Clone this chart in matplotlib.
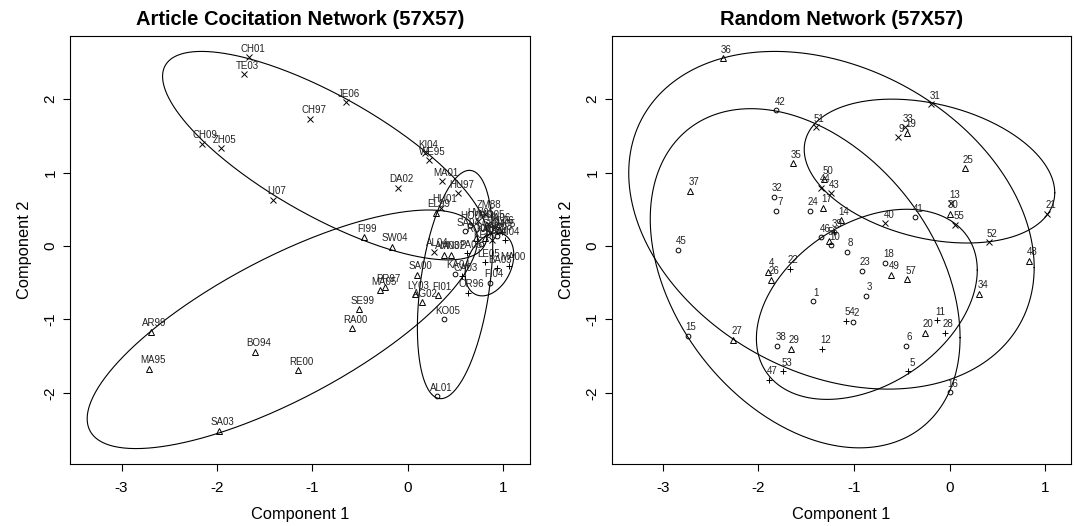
import numpy as np
import matplotlib
matplotlib.use('Agg')
from matplotlib import pyplot as plt

# ---- Article cocitation network (57x57): component scores ----
art_labels = ['CH01', 'TE03', 'CH97', 'CH09', 'ZH05', 'LI07', 'JE06', 'KI04',
              'WE95', 'DA02', 'MA01', 'HU97', 'HU01', 'EL99', 'FI99', 'SW04',
              'AL04', 'AM03', 'AN02', 'SA00', 'KA04', 'CA03', 'PR97', 'MA05',
              'LY03', 'AG02', 'FI01', 'SE99', 'RA00', 'KO05', 'AL01', 'OR96',
              'FI04', 'AR99', 'MA95', 'BO94', 'RE00', 'SA03',
              'ZM88', 'HW05', 'HO06', 'SA04', 'MO05', 'HA06', 'KL06', 'NI05',
              'GL04', 'WA03', 'KA05', 'ST04', 'KE03', 'RO01', 'MI04', 'LE05',
              'MA00', 'BA03', 'PA05']
art_x = [-1.66, -1.72, -1.02, -2.16, -1.96, -1.41, -0.65, 0.18,
         0.22, -0.10, 0.36, 0.53, 0.35, 0.29, -0.46, -0.17,
         0.27, 0.38, 0.45, 0.10, 0.49, 0.57, -0.24, -0.29,
         0.07, 0.15, 0.32, -0.51, -0.59, 0.38, 0.31, 0.63,
         0.86, -2.69, -2.71, -1.60, -1.15, -1.98,
         0.81, 0.73, 0.65, 0.60, 0.84, 0.91, 0.96, 0.99,
         0.86, 0.93, 0.81, 0.88, 0.77, 0.71, 1.02, 0.81,
         1.06, 0.93, 0.62]
art_y = [2.57, 2.34, 1.73, 1.39, 1.33, 0.63, 1.96, 1.26,
         1.17, 0.79, 0.88, 0.72, 0.52, 0.45, 0.12, -0.01,
         -0.08, -0.12, -0.12, -0.39, -0.38, -0.41, -0.56, -0.60,
         -0.66, -0.77, -0.67, -0.86, -1.12, -1.00, -2.05, -0.64,
         -0.50, -1.17, -1.67, -1.44, -1.69, -2.52,
         0.44, 0.34, 0.29, 0.20, 0.30, 0.26, 0.22, 0.19,
         0.18, 0.14, 0.11, 0.08, 0.03, 0.11, 0.08, -0.22,
         -0.27, -0.30, -0.10]
# cluster: 1 circle, 2 triangle, 3 plus, 4 cross
art_group = [4, 4, 4, 4, 4, 4, 4, 4,
             4, 4, 4, 4, 4, 2, 2, 2,
             4, 2, 2, 2, 1, 3, 2, 2,
             2, 2, 2, 2, 2, 1, 1, 3,
             1, 2, 2, 2, 2, 2,
             4, 4, 1, 1, 4, 4, 2, 3,
             4, 1, 2, 4, 1, 2, 3, 3,
             3, 3, 3]
# spanning ellipses: centre, half extents along x / y, and correlation
art_ell_cx = [-0.87, -1.315, 0.495, 0.855]
art_ell_cy = [1.23, -1.135, -0.525, -0.25]
art_ell_sx = [1.70, 2.045, 0.395, 0.255]
art_ell_sy = [1.42, 1.625, 1.555, 0.43]
art_ell_r = [-0.76, 0.75, 0.38, 0.30]

# ---- Random network (57x57) ----
rnd_labels = [str(i) for i in range(1, 58)]
rnd_x = [-1.43, -1.01, -0.87, -1.90, -0.43, -0.46, -1.81, -1.07, -0.54, -1.24,
         -0.13, -1.33, 0.02, -1.14, -2.74, 0.00, -1.32, -0.67, -0.44, -0.26,
         1.02, -1.67, -0.92, -1.46, 0.16, -1.87, -2.26, -0.05, -1.66, 0.00,
         -0.19, -1.84, -0.47, 0.31, -1.64, -2.37, -2.71, -1.80, -1.21, -0.67,
         -0.36, -1.81, -1.24, -1.34, -2.84, -1.34, -1.89, 0.83, -0.61, -1.31,
         -1.40, 0.41, -1.74, -1.08, 0.06, -1.26, -0.44]
rnd_y = [-0.75, -1.03, -0.68, -0.35, -1.71, -1.36, 0.48, -0.08, 1.48, 0.01,
         -1.01, -1.40, 0.58, 0.35, -1.22, -1.99, 0.52, -0.23, 1.54, -1.18,
         0.44, -0.31, -0.34, 0.48, 1.06, -0.46, -1.28, -1.18, -1.40, 0.44,
         1.93, 0.67, 1.62, -0.65, 1.13, 2.56, 0.75, -1.36, 0.19, 0.31,
         0.39, 1.85, 0.72, 0.79, -0.05, 0.12, -1.82, -0.20, -0.39, 0.91,
         1.62, 0.05, -1.71, -1.02, 0.29, 0.07, -0.45]
rnd_group = [1, 1, 1, 2, 3, 1, 1, 1, 4, 1,
             3, 3, 4, 2, 1, 1, 2, 1, 2, 2,
             4, 3, 1, 1, 2, 2, 2, 3, 2, 2,
             4, 1, 4, 2, 2, 2, 2, 1, 3, 4,
             1, 1, 4, 4, 1, 1, 3, 2, 2, 2,
             4, 4, 3, 3, 4, 2, 2]
rnd_ell_cx = [-1.235, -1.51, -0.21, -0.865]
rnd_ell_cy = [0.35, -0.44, 1.02, -0.795]
rnd_ell_sx = [2.12, 1.62, 1.31, 1.155]
rnd_ell_sy = [2.30, 2.31, 0.98, 1.295]
rnd_ell_r = [-0.28, -0.35, -0.30, 0.36]

markers = {1: 'o', 2: '^', 3: '+', 4: 'x'}
msize = {1: 3.4, 2: 4.2, 3: 5.0, 4: 4.0}

plt.rcParams['font.family'] = ['Liberation Sans', 'DejaVu Sans']
plt.rcParams['axes.unicode_minus'] = False


def draw_panel(ax, title, labels, xs, ys, groups, ecx, ecy, esx, esy, er):
    xs = np.asarray(xs)
    ys = np.asarray(ys)
    groups = np.asarray(groups)
    t = np.linspace(0, 2 * np.pi, 400)
    for cx, cy, sx, sy, r in zip(ecx, ecy, esx, esy, er):
        ex = cx + sx * np.cos(t)
        ey = cy + sy * (r * np.cos(t) - np.sqrt(1 - r * r) * np.sin(t))
        ax.plot(ex, ey, color='black', lw=0.8)
    for g, m in markers.items():
        sel = groups == g
        ax.plot(xs[sel], ys[sel], linestyle='none', marker=m,
                markersize=msize[g], markerfacecolor='none',
                markeredgecolor='black', markeredgewidth=0.7)
    for lab, x, y in zip(labels, xs, ys):
        ax.annotate(lab, (x, y), xytext=(2.5, 2.5), textcoords='offset points',
                    ha='center', va='bottom', fontsize=7, color='#222222')
    ax.set_title(title, fontsize=14.5, fontweight='bold', pad=8)
    ax.set_xlabel('Component 1', fontsize=11.8, labelpad=9)
    ax.set_ylabel('Component 2', fontsize=11.8, labelpad=8)
    ax.set_xticks([-3, -2, -1, 0, 1])
    ax.set_yticks([-2, -1, 0, 1, 2])
    ax.tick_params(direction='out', length=5, width=0.8, labelsize=11)
    ax.tick_params(axis='x', pad=7)
    ax.tick_params(axis='y', pad=4)
    for lab in ax.get_yticklabels():
        lab.set_rotation(90)
        lab.set_va('center')
    for s in ax.spines.values():
        s.set_linewidth(0.8)


fig = plt.figure(figsize=(10.74, 5.26), dpi=100)
ax1 = fig.add_axes([70 / 1074, 62 / 526, 460 / 1074, 428 / 526])
ax2 = fig.add_axes([612 / 1074, 62 / 526, 459 / 1074, 428 / 526])

draw_panel(ax1, 'Article Cocitation Network (57X57)', art_labels, art_x, art_y,
           art_group, art_ell_cx, art_ell_cy, art_ell_sx, art_ell_sy, art_ell_r)
draw_panel(ax2, 'Random Network (57X57)', rnd_labels, rnd_x, rnd_y,
           rnd_group, rnd_ell_cx, rnd_ell_cy, rnd_ell_sx, rnd_ell_sy, rnd_ell_r)

ax1.set_xlim(-3.54, 1.28)
ax2.set_xlim(-3.53, 1.27)
for ax in (ax1, ax2):
    ax.set_ylim(-2.97, 2.86)

fig.savefig('out.png', dpi=100)
